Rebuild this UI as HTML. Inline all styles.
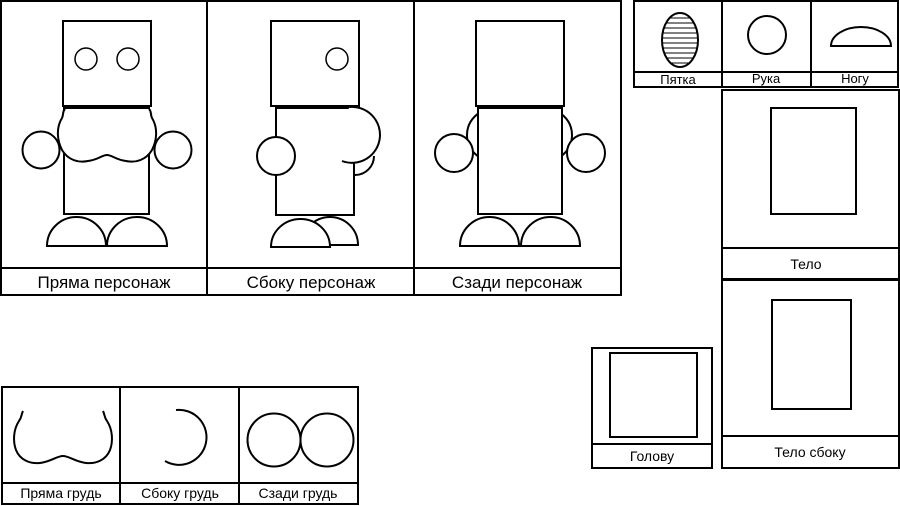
<!DOCTYPE html>
<html>
<head>
<meta charset="utf-8">
<style>
  html,body{margin:0;padding:0;background:#fff;}
  svg{display:block;}
  text{font-family:"Liberation Sans","DejaVu Sans",sans-serif;fill:#000;}
</style>
</head>
<body>
<svg width="900" height="506" viewBox="0 0 900 506" xmlns="http://www.w3.org/2000/svg">
  <defs>
    <clipPath id="eggclip"><ellipse cx="680" cy="40" rx="18" ry="27"/></clipPath>
  </defs>
  <rect x="0" y="0" width="900" height="506" fill="#fff"/>

  <!-- ===== Main panel ===== -->
  <g fill="none" stroke="#000" stroke-width="2">
    <rect x="1" y="1" width="620" height="294"/>
    <line x1="207" y1="1" x2="207" y2="295"/>
    <line x1="414" y1="1" x2="414" y2="295"/>
    <line x1="1" y1="268" x2="621" y2="268"/>
  </g>

  <!-- Panel 1: front -->
  <g stroke="#000" stroke-width="2" fill="#fff">
    <rect x="63" y="21" width="88" height="85"/>
    <circle cx="86" cy="59" r="11" stroke-width="1.5"/>
    <circle cx="128" cy="59" r="11" stroke-width="1.5"/>
    <rect x="64" y="108" width="85" height="106"/>
    <circle cx="41" cy="150" r="18.5"/>
    <circle cx="173" cy="150" r="18.5"/>
    <path d="M65,109 C62,112 64,114 62,118 C56,128 57,140 62,150 C68,160 78,163 88,161 C98,160 102,155 107,155 C112,155 116,160 126,161 C136,163 146,160 152,150 C157,140 158,128 152,118 C150,114 152,112 149,109 Z" stroke="none"/>
    <path d="M65,109 C62,112 64,114 62,118 C56,128 57,140 62,150 C68,160 78,163 88,161 C98,160 102,155 107,155 C112,155 116,160 126,161 C136,163 146,160 152,150 C157,140 158,128 152,118 C150,114 152,112 149,109" fill="none"/>
    <path d="M47,246 A29.5,29 0 0 1 106,246 Z"/>
    <path d="M107,246 A30,29 0 0 1 167,246 Z"/>
  </g>

  <!-- Panel 2: side -->
  <g stroke="#000" stroke-width="2" fill="#fff">
    <rect x="271" y="21" width="88" height="85"/>
    <circle cx="337" cy="59" r="11" stroke-width="1.5"/>
    <path d="M302,245 A28,28 0 0 1 358,245 Z"/>
    <rect x="276" y="108" width="78" height="107"/>
    <path d="M355,156 L355,175 A19,19 0 0 0 374,156 Z" stroke="none"/>
    <path d="M355,175 A19,19 0 0 0 374,156" fill="none"/>
    <path d="M349,107 A28,28 0 1 1 342,161 Z" stroke="none"/>
    <path d="M349,107 A28,28 0 1 1 342,161" fill="none"/>
    <circle cx="276" cy="156" r="19"/>
    <path d="M271,247 A29.5,28 0 0 1 330,247 Z"/>
  </g>

  <!-- Panel 3: back -->
  <g stroke="#000" stroke-width="2" fill="#fff">
    <circle cx="493" cy="135" r="26"/>
    <circle cx="546" cy="135" r="26"/>
    <rect x="476" y="21" width="88" height="85"/>
    <rect x="478" y="108" width="84" height="106"/>
    <circle cx="454" cy="153" r="19"/>
    <circle cx="586" cy="153" r="19"/>
    <path d="M460,246 A29.5,29 0 0 1 519,246 Z"/>
    <path d="M521,246 A29.5,29 0 0 1 580,246 Z"/>
  </g>

  <text x="104" y="288" font-size="17" text-anchor="middle">Пряма персонаж</text>
  <text x="311" y="288" font-size="17" text-anchor="middle">Сбоку персонаж</text>
  <text x="517" y="288" font-size="17" text-anchor="middle">Сзади персонаж</text>

  <!-- ===== Top-right small parts ===== -->
  <g fill="none" stroke="#000" stroke-width="2">
    <rect x="634" y="1" width="264" height="86"/>
    <line x1="722" y1="1" x2="722" y2="87"/>
    <line x1="811" y1="1" x2="811" y2="87"/>
    <line x1="634" y1="72" x2="898" y2="72"/>
  </g>
  <g clip-path="url(#eggclip)" stroke="#000" stroke-width="1">
    <line x1="660" y1="18" x2="700" y2="18"/>
    <line x1="660" y1="23" x2="700" y2="23"/>
    <line x1="660" y1="28" x2="700" y2="28"/>
    <line x1="660" y1="33" x2="700" y2="33"/>
    <line x1="660" y1="38" x2="700" y2="38"/>
    <line x1="660" y1="43" x2="700" y2="43"/>
    <line x1="660" y1="48" x2="700" y2="48"/>
    <line x1="660" y1="53" x2="700" y2="53"/>
    <line x1="660" y1="58" x2="700" y2="58"/>
    <line x1="660" y1="63" x2="700" y2="63"/>
  </g>
  <g fill="none" stroke="#000" stroke-width="2">
    <ellipse cx="680" cy="40" rx="18" ry="27"/>
    <circle cx="767" cy="35" r="19"/>
    <path d="M831,46 A30,19 0 0 1 891,46 Z"/>
  </g>
  <text x="678" y="84" font-size="13" text-anchor="middle">Пятка</text>
  <text x="766" y="83" font-size="13" text-anchor="middle">Рука</text>
  <text x="855" y="83" font-size="13" text-anchor="middle">Ногу</text>

  <!-- Тело -->
  <g fill="none" stroke="#000" stroke-width="2">
    <rect x="722" y="90" width="177" height="189"/>
    <line x1="722" y1="248" x2="899" y2="248"/>
    <rect x="771" y="108" width="85" height="106"/>
  </g>
  <text x="806" y="269" font-size="14" text-anchor="middle">Тело</text>

  <!-- Тело сбоку -->
  <g fill="none" stroke="#000" stroke-width="2">
    <rect x="722" y="280" width="177" height="188"/>
    <line x1="722" y1="436" x2="899" y2="436"/>
    <rect x="772" y="300" width="79" height="109"/>
  </g>
  <text x="810" y="457" font-size="14" text-anchor="middle">Тело сбоку</text>

  <!-- Голову -->
  <g fill="none" stroke="#000" stroke-width="2">
    <rect x="592" y="348" width="120" height="120"/>
    <line x1="592" y1="444" x2="712" y2="444"/>
    <rect x="610" y="353" width="87" height="84"/>
  </g>
  <text x="652" y="461" font-size="14" text-anchor="middle">Голову</text>

  <!-- ===== Bottom-left chest panel ===== -->
  <g fill="none" stroke="#000" stroke-width="2">
    <rect x="2" y="387" width="356" height="117"/>
    <line x1="120" y1="387" x2="120" y2="504"/>
    <line x1="239" y1="387" x2="239" y2="504"/>
    <line x1="2" y1="483" x2="358" y2="483"/>
    <path d="M23,411 C21,415 22,417 19,421 C13,430 13,442 16,450 C20,460 30,464 40,463 C50,462 57,456 63,456 C69,456 76,462 86,463 C96,464 106,460 110,450 C113,442 113,430 107,421 C104,417 105,415 103,411"/>
    <path d="M176,410 A27.5,27.5 0 1 1 165,461"/>
    <circle cx="274" cy="440" r="26.5"/>
    <circle cx="327" cy="440" r="26.5"/>
  </g>
  <text x="61" y="498" font-size="14" text-anchor="middle">Пряма грудь</text>
  <text x="180" y="498" font-size="14" text-anchor="middle">Сбоку грудь</text>
  <text x="298" y="498" font-size="14" text-anchor="middle">Сзади грудь</text>
</svg>
</body>
</html>
